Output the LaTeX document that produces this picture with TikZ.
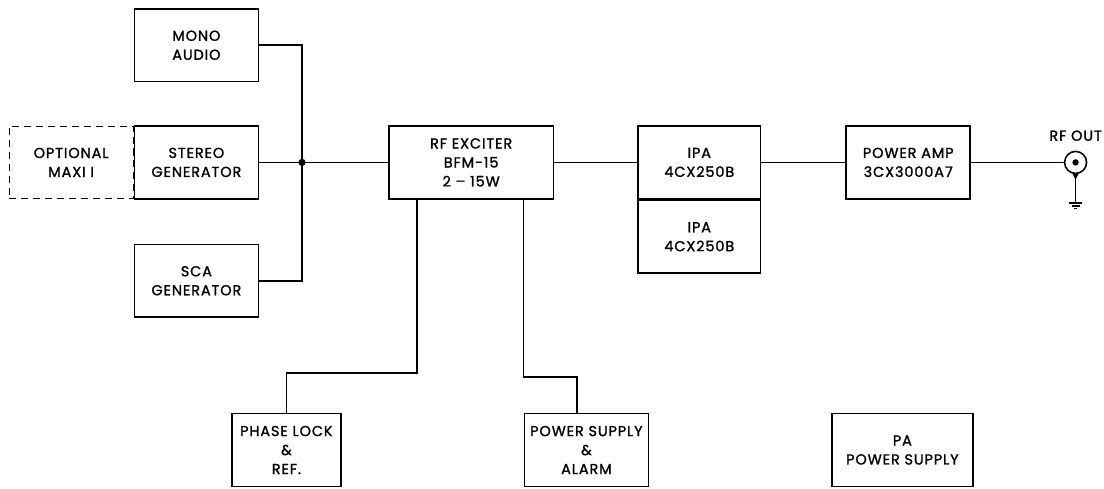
\documentclass[tikz,border=0pt]{standalone}
\usepackage{fontspec}
\setsansfont{Poppins}[LetterSpace=6, FakeBold=1.3]
\usetikzlibrary{positioning, calc}

\begin{document}
\begin{tikzpicture}[
  every node/.style={font=\sffamily\fontsize{10.3}{13.5}\selectfont},
  block/.style={
    rectangle,
    draw,
    line width=1.1pt,
    minimum width=3.1cm,
    minimum height=1.82cm,
    align=center,
    inner sep=2pt
  },
  option/.style={
    block,
    line width=0.7pt,
    dash pattern=on 5pt off 3.5pt
  },
  wire/.style={line width=1.1pt}
]

\useasboundingbox (0,0) rectangle (27.6,-12.2);

% ============================================================
% Audio inputs
% ============================================================

\node[block] (stereo) at (4.91,-4.06) {STEREO\\GENERATOR};
\node[block, above=1.07cm of stereo] (mono) {MONO\\AUDIO};
\node[block, below=1.1cm of stereo] (sca) {SCA\\GENERATOR};
\node[option, left=0cm of stereo] (maxi) {OPTIONAL\\MAXI I};

\coordinate (bus) at ($(stereo.east)+(1.07,0)$);

% ============================================================
% RF chain
% ============================================================

\node[block, minimum width=4.12cm, right=3.22cm of stereo] (exciter) {RF EXCITER\\BFM-15\\2 \textendash\ 15W};
\node[block, minimum width=3.07cm, right=2.07cm of exciter] (ipa1) {IPA\\4CX250B};
\node[block, minimum width=3.07cm, below=0cm of ipa1] (ipa2) {IPA\\4CX250B};
\node[block, right=2.1cm of ipa1] (pa) {POWER AMP\\3CX3000A7};

\node[circle, draw, wire, minimum size=0.55cm, inner sep=0pt, right=2.32cm of pa] (rfout) {};
\node[circle, fill, minimum size=0.16cm, inner sep=0pt] (pin) at (rfout.center) {};
\node[above=0.12cm of rfout] (rflabel) {RF OUT};
\coordinate[below=0.72cm of rfout.south] (gnd);

% ============================================================
% Power supplies and phase lock
% ============================================================

\node[block, minimum width=2.72cm] (phase) at (7.16,-11.25) {PHASE LOCK\\\&\\REF.};
\node[block] (psu) at (14.66,-11.25) {POWER SUPPLY\\\&\\ALARM};
\node[block, minimum width=3.52cm] (papsu) at (22.56,-11.25) {PA\\POWER SUPPLY};

% ============================================================
% Wiring
% ============================================================

\draw[wire] (mono.east) -| (bus) |- (sca.east);
\draw[wire] (stereo.east) -- (bus) -- (exciter.west);
\fill (bus) circle (0.09);

\draw[wire] (exciter.east) -- (ipa1.west);
\draw[wire] (ipa1.east) -- (pa.west);
\draw[wire] (pa.east) -- (rfout.west);

\fill ($(rfout.south)+(-0.08,0.02)$) -- ($(rfout.south)+(0.08,0.02)$) -- ($(rfout.south)+(0,-0.14)$) -- cycle;
\draw[wire] (rfout.south) -- (gnd);
\foreach \w/\d in {0.16/0, 0.1/0.07, 0.04/0.14}
  \draw[wire] ($(gnd)+(-\w,-\d)$) -- ($(gnd)+(\w,-\d)$);

\coordinate (tapl) at ($(exciter.south west)+(0.72,-4.33)$);
\coordinate (tapr) at ($(exciter.south east)+(-0.77,-4.43)$);
\coordinate (psuin) at ($(psu.north)+(-0.23,0)$);

\draw[wire] (exciter.south west -| tapl) -- (tapl) -| (phase.north);
\draw[wire] (exciter.south east -| tapr) -- (tapr) -| (psuin);

\end{tikzpicture}
\end{document}
